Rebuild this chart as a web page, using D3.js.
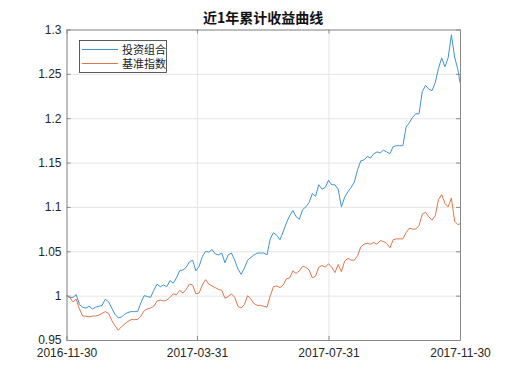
<!DOCTYPE html>
<html><head><meta charset="utf-8">
<script src="https://cdn.jsdelivr.net/npm/d3@7/dist/d3.min.js"></script>
<style>body{margin:0;background:#fff}svg{display:block}</style>
</head><body><svg id="c" width="509" height="382"></svg>
<script>
const chartTitle = "近1年累计收益曲线";
const seriesNames = ["投资组合", "基准指数"];
const xTickLabels = ["2016-11-30", "2017-03-31", "2017-07-31", "2017-11-30"];
const yTickValues = [0.95, 1, 1.05, 1.1, 1.15, 1.2, 1.25, 1.3];
const dates = [
"2016-11-30","2016-12-03","2016-12-06","2016-12-09","2016-12-12","2016-12-15","2016-12-18","2016-12-21","2016-12-24","2016-12-27",
"2016-12-30","2017-01-02","2017-01-05","2017-01-08","2017-01-11","2017-01-14","2017-01-17","2017-01-20","2017-01-23","2017-01-26",
"2017-01-29","2017-02-01","2017-02-04","2017-02-07","2017-02-10","2017-02-13","2017-02-16","2017-02-19","2017-02-22","2017-02-25",
"2017-02-28","2017-03-03","2017-03-06","2017-03-09","2017-03-12","2017-03-15","2017-03-18","2017-03-21","2017-03-24","2017-03-27",
"2017-03-30","2017-04-02","2017-04-05","2017-04-08","2017-04-11","2017-04-14","2017-04-17","2017-04-20","2017-04-23","2017-04-26",
"2017-04-29","2017-05-02","2017-05-05","2017-05-08","2017-05-11","2017-05-14","2017-05-17","2017-05-20","2017-05-23","2017-05-26",
"2017-05-29","2017-06-01","2017-06-04","2017-06-07","2017-06-10","2017-06-13","2017-06-16","2017-06-19","2017-06-22","2017-06-25",
"2017-06-28","2017-07-01","2017-07-04","2017-07-07","2017-07-10","2017-07-13","2017-07-16","2017-07-19","2017-07-22","2017-07-25",
"2017-07-28","2017-07-31","2017-08-03","2017-08-06","2017-08-09","2017-08-12","2017-08-15","2017-08-18","2017-08-21","2017-08-24",
"2017-08-27","2017-08-30","2017-09-02","2017-09-05","2017-09-08","2017-09-11","2017-09-14","2017-09-17","2017-09-20","2017-09-23",
"2017-09-26","2017-09-29","2017-10-02","2017-10-05","2017-10-08","2017-10-11","2017-10-14","2017-10-17","2017-10-20","2017-10-23",
"2017-10-26","2017-10-29","2017-11-01","2017-11-04","2017-11-07","2017-11-10","2017-11-13","2017-11-16","2017-11-19","2017-11-22",
"2017-11-25","2017-11-28","2017-11-30"];
const portfolio = [
1.000,0.998,0.998,1.001,0.990,0.987,0.986,0.988,0.985,0.987,
0.988,0.989,0.996,0.993,0.986,0.979,0.975,0.976,0.979,0.981,
0.982,0.982,0.982,0.992,1.000,0.999,0.998,1.006,1.013,1.010,
1.012,1.010,1.017,1.014,1.020,1.028,1.029,1.032,1.038,1.040,
1.028,1.033,1.044,1.050,1.049,1.052,1.047,1.046,1.048,1.037,
1.046,1.048,1.040,1.030,1.024,1.031,1.040,1.043,1.046,1.048,
1.048,1.048,1.046,1.064,1.071,1.068,1.063,1.072,1.082,1.090,
1.096,1.089,1.086,1.097,1.100,1.105,1.115,1.112,1.125,1.120,
1.122,1.130,1.125,1.125,1.120,1.100,1.111,1.117,1.122,1.128,
1.142,1.152,1.153,1.157,1.155,1.160,1.162,1.161,1.164,1.162,
1.160,1.168,1.169,1.169,1.169,1.190,1.195,1.201,1.205,1.205,
1.230,1.237,1.233,1.231,1.240,1.256,1.268,1.258,1.268,1.294,
1.269,1.255,1.240];
const benchmark = [
1.000,0.998,0.993,0.996,0.985,0.977,0.977,0.976,0.977,0.977,
0.978,0.980,0.982,0.980,0.972,0.966,0.961,0.965,0.968,0.971,
0.973,0.973,0.973,0.977,0.983,0.985,0.986,0.988,0.994,0.995,
0.994,0.995,0.998,1.002,1.001,1.006,1.003,1.007,1.013,1.012,
1.002,1.003,1.012,1.018,1.013,1.011,1.009,1.007,1.006,0.997,
0.999,1.002,0.998,0.988,0.986,0.990,1.000,0.996,0.991,0.989,
0.989,0.988,0.987,1.000,1.010,1.011,1.009,1.012,1.019,1.020,
1.028,1.025,1.028,1.033,1.032,1.029,1.020,1.022,1.032,1.034,
1.032,1.036,1.032,1.026,1.035,1.027,1.039,1.042,1.040,1.040,
1.045,1.055,1.058,1.059,1.058,1.060,1.058,1.062,1.061,1.059,
1.054,1.063,1.064,1.064,1.064,1.071,1.076,1.075,1.075,1.079,
1.092,1.094,1.089,1.085,1.090,1.108,1.114,1.104,1.100,1.110,
1.084,1.080,1.081];

const parse = d3.timeParse("%Y-%m-%d");
const X = dates.map(parse);
const svg = d3.select("#c");
const L = 66.5, R = 460, T = 29.5, B = 340;
const x = d3.scaleTime().domain([parse(xTickLabels[0]), parse(xTickLabels[xTickLabels.length-1])]).range([L, R]);
const y = d3.scaleLinear().domain([0.95, 1.3]).range([B, T]);
const xTicks = xTickLabels.map(parse);
const fmtY = d => d3.format("")(+d.toFixed(2));

// grid
svg.append("g").attr("transform", `translate(0,${B})`)
  .call(d3.axisBottom(x).tickValues(xTicks).tickSize(-(B - T)).tickFormat(""))
  .call(g => { g.select(".domain").remove(); g.selectAll("line").attr("stroke", "#e5e5e5"); });
svg.append("g").attr("transform", `translate(${L},0)`)
  .call(d3.axisLeft(y).tickValues(yTickValues).tickSize(-(R - L)).tickFormat(""))
  .call(g => { g.select(".domain").remove(); g.selectAll("line").attr("stroke", "#e5e5e5"); });

// lines
const colors = ["#3f93d3", "#e2764a"];
[portfolio, benchmark].forEach((vals, i) => {
  svg.append("path").datum(vals)
    .attr("fill", "none").attr("stroke", colors[i]).attr("stroke-width", 1)
    .attr("stroke-linejoin", "round")
    .attr("d", d3.line().x((d, j) => x(X[j])).y(d => y(d)));
});

// axes with inward ticks
const axCol = "#262626", frameCol = "#8a8a8a";
const styleAxis = g => {
  g.select(".domain").attr("stroke", frameCol);
  g.selectAll(".tick line").attr("stroke", frameCol);
  g.selectAll("text").attr("fill", axCol).attr("font-family", "Liberation Sans, Arial, sans-serif").attr("font-size", 12);
};
svg.append("g").attr("transform", `translate(0,${B})`)
  .call(d3.axisBottom(x).tickValues(xTicks).tickSizeInner(-4).tickSizeOuter(0).tickPadding(8).tickFormat(d3.timeFormat("%Y-%m-%d")))
  .call(styleAxis);
svg.append("g").attr("transform", `translate(0,${T})`)
  .call(d3.axisTop(x).tickValues(xTicks).tickSizeInner(-4).tickSizeOuter(0).tickFormat(""))
  .call(styleAxis);
svg.append("g").attr("transform", `translate(${L},0)`)
  .call(d3.axisLeft(y).tickValues(yTickValues).tickSizeInner(-4).tickSizeOuter(0).tickPadding(5).tickFormat(fmtY))
  .call(styleAxis);
svg.append("g").attr("transform", `translate(${R},0)`)
  .call(d3.axisRight(y).tickValues(yTickValues).tickSizeInner(-4).tickSizeOuter(0).tickFormat(""))
  .call(styleAxis);

// title
svg.append("text").attr("x", (L + R) / 2).attr("y", 23).attr("text-anchor", "middle")
  .attr("font-family", "Noto Sans CJK SC, sans-serif").attr("font-weight", "bold").attr("font-size", 14)
  .attr("fill", "#111").text(chartTitle);

// legend
const lg = svg.append("g");
lg.append("rect").attr("x", 79.5).attr("y", 40.5).attr("width", 87).attr("height", 32)
  .attr("fill", "#fff").attr("stroke", "#333").attr("stroke-width", 0.8);
seriesNames.forEach((n, i) => {
  const yy = 49.5 + i * 14;
  lg.append("line").attr("x1", 82).attr("x2", 118).attr("y1", yy).attr("y2", yy).attr("stroke", colors[i]).attr("stroke-width", 1);
  lg.append("text").attr("x", 122).attr("y", yy + 4).attr("font-family", "Noto Sans CJK SC, sans-serif")
    .attr("font-size", 11).attr("fill", "#222").text(n);
});
</script></body></html>
